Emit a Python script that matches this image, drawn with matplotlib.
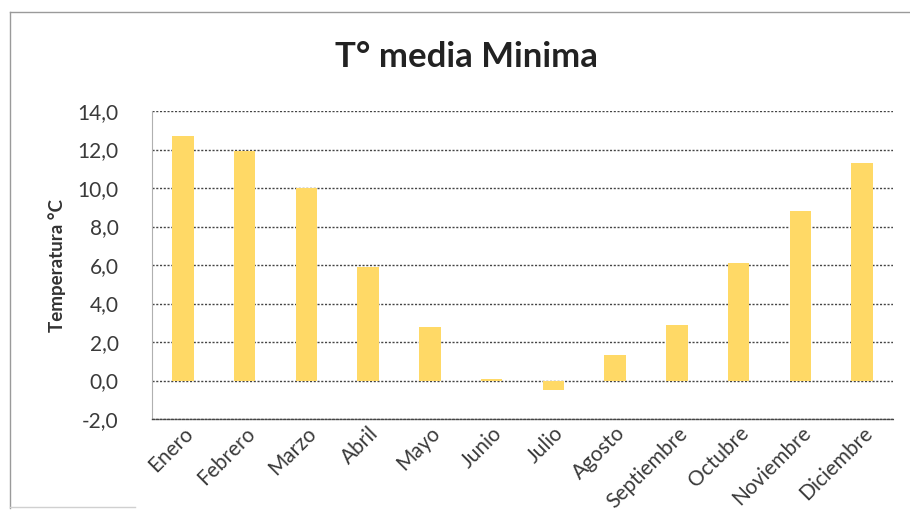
import matplotlib
matplotlib.use("Agg")
import matplotlib.pyplot as plt
from matplotlib.lines import Line2D
from matplotlib.ticker import FuncFormatter

meses = ["Enero", "Febrero", "Marzo", "Abril", "Mayo", "Junio", "Julio",
         "Agosto", "Septiembre", "Octubre", "Noviembre", "Diciembre"]
temp_min = [12.7, 11.9, 10.0, 5.9, 2.8, 0.1, -0.5, 1.3, 2.9, 6.1, 8.8, 11.3]
y_ticks = [-2, 0, 2, 4, 6, 8, 10, 12, 14]

plt.rcParams["font.family"] = ["Lato", "DejaVu Sans"]

fig = plt.figure(figsize=(9.10, 5.13), dpi=100)
ax = fig.add_axes([152 / 910, 1 - 419 / 513, (893 - 152) / 910, (419 - 111) / 513])

x = list(range(len(meses)))
ax.bar(x, temp_min, width=0.35, color="#FFD966", zorder=3)

ax.set_xlim(-0.5, len(meses) - 0.5)
ax.set_ylim(-2, 14)
ax.set_yticks(y_ticks)
ax.yaxis.set_major_formatter(FuncFormatter(lambda v, p: f"{v:.1f}".replace(".", ",")))
ax.set_xticks(x)
ax.set_xticklabels(meses, rotation=45, ha="right", rotation_mode="anchor",
                   fontsize=15, color="#3a3a3a")
ax.tick_params(axis="y", labelsize=15, labelcolor="#3a3a3a", length=0, pad=24)
ax.tick_params(axis="x", length=0, pad=3)

# dotted horizontal gridlines
dots = (0, (1.5, 1.2))
ax.grid(axis="y", color="#444444", linestyle=dots, linewidth=1.0, zorder=1)
ax.set_axisbelow(True)
for s in ["top", "right"]:
    ax.spines[s].set_visible(False)
# the bottom edge at the axis minimum uses the same dotted style as the grid
ax.spines["bottom"].set_color("#444444")
ax.spines["bottom"].set_linestyle(dots)
ax.spines["bottom"].set_linewidth(1.0)
ax.spines["left"].set_color("#b0b0b0")
ax.spines["left"].set_linewidth(0.8)

ax.set_ylabel("Temperatura °C", fontsize=13.5, fontweight="bold", color="#333333", labelpad=8)
fig.text(466 / 910, 1 - 57 / 513, "T° media Minima", ha="center", va="center",
         fontsize=25, fontweight="bold", color="#222222")

# chart frame
fig.add_artist(Line2D([10 / 910, 1.0], [1 - 12 / 513, 1 - 12 / 513],
                      transform=fig.transFigure, color="#9a9a9a", linewidth=1.0))
fig.add_artist(Line2D([10 / 910, 10 / 910], [1 - 12 / 513, 1 - 508 / 513],
                      transform=fig.transFigure, color="#9a9a9a", linewidth=1.0))
fig.add_artist(Line2D([10 / 910, 135 / 910], [1 - 507 / 513, 1 - 507 / 513],
                      transform=fig.transFigure, color="#d0d0d0", linewidth=1.0))

fig.savefig("out.png", dpi=100)
